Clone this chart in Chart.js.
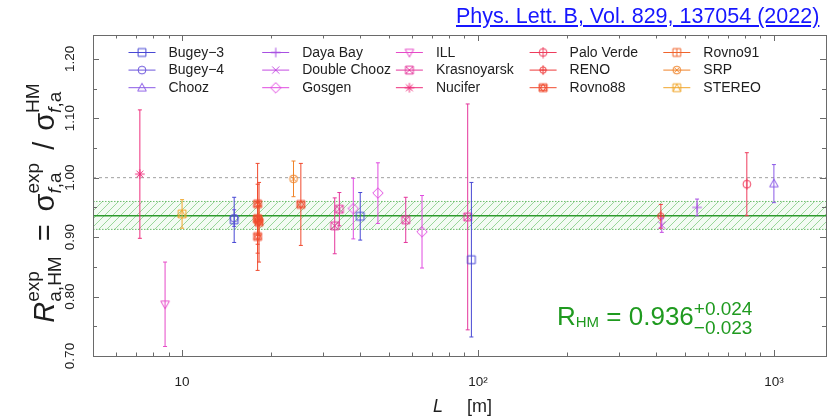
<!DOCTYPE html>
<html>
<head>
<meta charset="utf-8">
<script src="https://cdn.jsdelivr.net/npm/chart.js@4.4.1/dist/chart.umd.min.js"></script>
<style>
  html, body { margin: 0; padding: 0; background: #fff; }
  #wrap { position: relative; width: 832px; height: 418px; }
  #ref {
    position: absolute; left: 456px; top: 6px;
    font: 21.5px "Liberation Sans", Arial, sans-serif; line-height: 21.5px;
    color: #1616ff; text-decoration: underline; white-space: nowrap;
  }
</style>
</head>
<body>
<div id="wrap">
  <canvas id="chart" width="832" height="418"></canvas>
  <a id="ref" href="#">Phys. Lett. B, Vol. 829, 137054 (2022)</a>
</div>
<script>
// experiments, in legend order
const experiments = ['Bugey−3', 'Bugey−4', 'Chooz', 'Daya Bay', 'Double Chooz', 'Gosgen', 'ILL', 'Krasnoyarsk',
  'Nucifer', 'Palo Verde', 'RENO', 'Rovno88', 'Rovno91', 'SRP', 'STEREO'];

// one entry per measured point
const pointExperiment = ['Bugey−3', 'Bugey−3', 'Bugey−3', 'Bugey−4', 'Chooz', 'Daya Bay', 'Double Chooz',
  'Gosgen', 'Gosgen', 'Gosgen', 'ILL', 'Krasnoyarsk', 'Krasnoyarsk', 'Krasnoyarsk', 'Krasnoyarsk',
  'Nucifer', 'Palo Verde', 'RENO', 'Rovno88', 'Rovno88', 'Rovno88', 'Rovno88', 'Rovno88',
  'Rovno91', 'SRP', 'SRP', 'STEREO'];
const pointDistance = [15, 40, 95, 15, 1000, 550, 418,
  37.9, 45.9, 64.7, 8.76, 32.8, 92.3, 57, 34,
  7.2, 810, 415, 18, 18, 18, 25.2, 18.2,
  18, 18.2, 23.8, 10];
const pointRatio = [0.929, 0.935, 0.862, 0.932, 0.990, 0.950, 0.920,
  0.948, 0.974, 0.909, 0.787, 0.919, 0.934, 0.929, 0.947,
  1.006, 0.989, 0.935, 0.901, 0.956, 0.931, 0.955, 0.925,
  0.930, 0.928, 0.998, 0.939];
const pointError = [0.038, 0.040, 0.130, 0.014, 0.032, 0.014, 0.012,
  0.051, 0.051, 0.061, 0.071, 0.047, 0.190, 0.038, 0.028,
  0.108, 0.053, 0.020, 0.057, 0.068, 0.058, 0.069, 0.067,
  0.027, 0.025, 0.030, 0.024];

// fitted ratio and its band
const fitValue = 0.936;
const fitErrHigh = 0.024;
const fitErrLow = 0.023;
const referenceValue = 1.0;

// axis ticks
const xTickValues = [10, 100, 1000];
const xTickLabels = ['10', '10²', '10³'];
const yTickValues = [0.7, 0.8, 0.9, 1.0, 1.1, 1.2];
const yTickLabels = ['0.70', '0.80', '0.90', '1.00', '1.10', '1.20'];

// styling
const FONT = "'Liberation Sans', Arial, Helvetica, sans-serif";
const expColors = ['#4848d4', '#6c56dc', '#8a5ae6', '#a850e2', '#c44ce2', '#e04ce0', '#e64ac8', '#e4369c',
  '#ee2e7c', '#ee3c5c', '#ee3a3a', '#f04a2e', '#f0642c', '#f0842a', '#f0a62c'];
const expShapes = ['square', 'circle', 'triangle', 'plus', 'cross', 'diamond', 'triangleDown', 'squareX',
  'star', 'circleV', 'circlePlus', 'hexagram', 'squareV', 'circleX', 'squareTri'];
const X_MIN = 5, X_MAX = 1500;

function makeMarker(shape, color) {
  const cv = document.createElement('canvas');
  cv.width = 12; cv.height = 12;
  const g = cv.getContext('2d');
  const c = 6, r = 3.9;
  g.strokeStyle = color;
  g.lineWidth = 1;
  g.beginPath();
  const sq = () => g.rect(c - r, c - r, 2 * r, 2 * r);
  const ci = (rr) => { g.moveTo(c + rr, c); g.arc(c, c, rr, 0, Math.PI * 2); };
  switch (shape) {
    case 'square': sq(); break;
    case 'circle': ci(r); break;
    case 'triangle': g.moveTo(c, c - 4.5); g.lineTo(c + 4.3, c + 3.2); g.lineTo(c - 4.3, c + 3.2); g.closePath(); break;
    case 'triangleDown': g.moveTo(c, c + 4.5); g.lineTo(c + 4.3, c - 3.2); g.lineTo(c - 4.3, c - 3.2); g.closePath(); break;
    case 'plus': g.moveTo(c - 4.8, c); g.lineTo(c + 4.8, c); g.moveTo(c, c - 4.8); g.lineTo(c, c + 4.8); break;
    case 'cross': g.moveTo(c - 3.6, c - 3.6); g.lineTo(c + 3.6, c + 3.6); g.moveTo(c + 3.6, c - 3.6); g.lineTo(c - 3.6, c + 3.6); break;
    case 'diamond': g.moveTo(c, c - 5.2); g.lineTo(c + 5.2, c); g.lineTo(c, c + 5.2); g.lineTo(c - 5.2, c); g.closePath(); break;
    case 'squareX': sq(); g.moveTo(c - r, c - r); g.lineTo(c + r, c + r); g.moveTo(c + r, c - r); g.lineTo(c - r, c + r); break;
    case 'star':
      g.moveTo(c - 4.8, c); g.lineTo(c + 4.8, c); g.moveTo(c, c - 4.8); g.lineTo(c, c + 4.8);
      g.moveTo(c - 3.4, c - 3.4); g.lineTo(c + 3.4, c + 3.4); g.moveTo(c + 3.4, c - 3.4); g.lineTo(c - 3.4, c + 3.4); break;
    case 'circleV': ci(r); g.moveTo(c, c - 5.5); g.lineTo(c, c + 5.5); break;
    case 'circlePlus': ci(3.2); g.moveTo(c - 3.2, c); g.lineTo(c + 3.2, c); g.moveTo(c, c - 4.8); g.lineTo(c, c + 4.8); break;
    case 'hexagram':
      sq();
      g.moveTo(c, c - r); g.lineTo(c + r, c + r * 0.6); g.lineTo(c - r, c + r * 0.6); g.closePath();
      g.moveTo(c, c + r); g.lineTo(c + r, c - r * 0.6); g.lineTo(c - r, c - r * 0.6); g.closePath(); break;
    case 'squareV': sq(); g.moveTo(c, c - r); g.lineTo(c, c + r); break;
    case 'circleX': ci(r); g.moveTo(c - 2.7, c - 2.7); g.lineTo(c + 2.7, c + 2.7); g.moveTo(c + 2.7, c - 2.7); g.lineTo(c - 2.7, c + 2.7); break;
    case 'squareTri': sq(); g.moveTo(c, c - r); g.lineTo(c + r, c + r); g.moveTo(c, c - r); g.lineTo(c - r, c + r); break;
  }
  g.stroke();
  return cv;
}
const expMarkers = experiments.map((e, i) => makeMarker(expShapes[i], expColors[i]));

function makeHatch() {
  const cv = document.createElement('canvas');
  cv.width = 8; cv.height = 8;
  const g = cv.getContext('2d');
  g.fillStyle = 'rgba(160,220,160,0.12)';
  g.fillRect(0, 0, 8, 8);
  g.strokeStyle = 'rgba(70,180,70,0.75)';
  g.lineWidth = 0.7;
  g.beginPath();
  g.moveTo(0, 8); g.lineTo(8, 0);
  g.moveTo(-1, 1); g.lineTo(1, -1);
  g.moveTo(7, 9); g.lineTo(9, 7);
  g.stroke();
  return cv;
}
const canvas = document.getElementById('chart');
const hatch = canvas.getContext('2d').createPattern(makeHatch(), 'repeat');

const flat = (v) => [{ x: X_MIN, y: v }, { x: X_MAX, y: v }];
const lineDs = (v, extra) => Object.assign({
  type: 'line', data: flat(v), pointRadius: 0, borderWidth: 1, fill: false, order: 10
}, extra);

const datasets = [
  lineDs(fitValue - fitErrLow, { borderColor: 'rgba(50,160,50,0.9)', borderWidth: 0.8, borderDash: [1.5, 1.5] }),
  lineDs(fitValue + fitErrHigh, { borderColor: 'rgba(50,160,50,0.9)', borderWidth: 0.8, borderDash: [1.5, 1.5], fill: '-1', backgroundColor: hatch }),
  lineDs(fitValue, { borderColor: '#2e9b2e', borderWidth: 1.6, order: 9 }),
  lineDs(referenceValue, { borderColor: '#a0a0a0', borderDash: [3, 3], order: 9 })
];

experiments.forEach((name, i) => {
  const idx = pointExperiment.map((e, k) => e === name ? k : -1).filter(k => k >= 0);
  datasets.push({
    label: name,
    data: idx.map(k => ({ x: pointDistance[k], y: pointRatio[k] })),
    errors: idx.map(k => pointError[k]),
    pointStyle: expMarkers[i],
    pointRadius: 5,
    borderColor: expColors[i],
    backgroundColor: 'transparent',
    order: 0
  });
});

// error bars, drawn just before each experiment's markers
const errorBars = {
  id: 'errorBars',
  beforeDatasetDraw(chart, args) {
    const ds = chart.data.datasets[args.index];
    if (!ds.errors) return;
    const ctx = chart.ctx, xs = chart.scales.x, ys = chart.scales.y;
    ctx.save();
    ctx.strokeStyle = ds.borderColor;
    ctx.lineWidth = 1;
    ds.data.forEach((p, k) => {
      const x = xs.getPixelForValue(p.x);
      const y1 = ys.getPixelForValue(p.y + ds.errors[k]);
      const y2 = ys.getPixelForValue(p.y - ds.errors[k]);
      ctx.beginPath();
      ctx.moveTo(x, y1); ctx.lineTo(x, y2);
      ctx.moveTo(x - 2, y1); ctx.lineTo(x + 2, y1);
      ctx.moveTo(x - 2, y2); ctx.lineTo(x + 2, y2);
      ctx.stroke();
    });
    ctx.restore();
  }
};

// frame with inward ticks on all four sides
const frame = {
  id: 'frame',
  afterDraw(chart) {
    const { ctx, chartArea: a } = chart;
    const xs = chart.scales.x, ys = chart.scales.y;
    ctx.save();
    ctx.strokeStyle = '#6a6a6a';
    ctx.lineWidth = 1;
    ctx.strokeRect(Math.round(a.left) + 0.5, Math.round(a.top) + 0.5, Math.round(a.right - a.left), Math.round(a.bottom - a.top));
    ctx.beginPath();
    xs.ticks.forEach(t => {
      const x = Math.round(xs.getPixelForValue(t.value)) + 0.5;
      const len = t.major ? 6 : 3.5;
      ctx.moveTo(x, a.bottom); ctx.lineTo(x, a.bottom - len);
      ctx.moveTo(x, a.top); ctx.lineTo(x, a.top + len);
    });
    ys.ticks.forEach(t => {
      const y = Math.round(ys.getPixelForValue(t.value)) + 0.5;
      const len = t.major ? 6 : 4;
      ctx.moveTo(a.left, y); ctx.lineTo(a.left + len, y);
      ctx.moveTo(a.right, y); ctx.lineTo(a.right - len, y);
    });
    ctx.stroke();
    ctx.restore();
  }
};

// column-wise legend inside the frame
const legendBox = {
  id: 'legendBox',
  afterDraw(chart) {
    const ctx = chart.ctx;
    ctx.save();
    chart.data.datasets.filter(d => d.errors).forEach((ds, i) => {
      const col = Math.floor(i / 3), row = i % 3;
      const x = 128.5 + col * 133.7, y = 52.5 + row * 17.6;
      ctx.strokeStyle = ds.borderColor;
      ctx.lineWidth = 1;
      ctx.beginPath(); ctx.moveTo(x, y); ctx.lineTo(x + 27, y); ctx.stroke();
      ctx.drawImage(ds.pointStyle, x + 13.5 - 6, y - 6);
      ctx.fillStyle = '#1e1e1e';
      ctx.font = '14px ' + FONT;
      ctx.textBaseline = 'middle';
      ctx.fillText(ds.label, x + 40, y + 0.5);
    });
    ctx.restore();
  }
};

// rich text helpers for sub/superscripts
function fontStr(size, italic) { return (italic ? 'italic ' : '') + size + 'px ' + FONT; }
function runsWidth(ctx, runs, size) {
  let w = 0;
  runs.forEach(r => { ctx.font = fontStr(r.size || size, r.italic); w += ctx.measureText(r.t).width; });
  return w;
}
function drawRuns(ctx, runs, size, x, y) {
  runs.forEach(r => { ctx.font = fontStr(r.size || size, r.italic); ctx.fillText(r.t, x, y + (r.dy || 0)); x += ctx.measureText(r.t).width; });
  return x;
}
function segWidth(ctx, s, o) {
  if (s.gap) return s.gap;
  return s.sup ? Math.max(runsWidth(ctx, s.sup, o.script), runsWidth(ctx, s.sub, o.script)) : runsWidth(ctx, [s], o.main);
}
function richWidth(ctx, segs, o) {
  return segs.reduce((w, s) => w + segWidth(ctx, s, o), 0);
}
function drawRich(ctx, segs, o, x, y) {
  segs.forEach(s => {
    if (s.gap) {
      x += s.gap;
    } else if (s.sup) {
      const a = drawRuns(ctx, s.sup, o.script, x, y + o.supDy);
      const b = drawRuns(ctx, s.sub, o.script, x, y + o.subDy);
      x = Math.max(a, b);
    } else {
      x = drawRuns(ctx, [s], o.main, x, y);
    }
  });
}

const yTitle = [
  { t: 'R', italic: true },
  { sup: [{ t: 'exp' }], sub: [{ t: 'a,HM' }] },
  { gap: 15 }, { t: '=' }, { gap: 13 },
  { t: 'σ' },
  { sup: [{ t: 'exp' }], sub: [{ t: 'f', italic: true }, { t: ',a' }] },
  { gap: 13 }, { t: '/' }, { gap: 11 },
  { t: 'σ' },
  { sup: [{ t: 'HM' }], sub: [{ t: 'f', italic: true }, { t: ',a' }] }
];
const fitLabel = [
  { t: 'R' },
  { t: 'HM', size: 15, dy: 2 },
  { t: ' = ' + fitValue.toFixed(3) },
  { sup: [{ t: '+' + fitErrHigh.toFixed(3) }], sub: [{ t: '−' + fitErrLow.toFixed(3) }] }
];

const titles = {
  id: 'titles',
  afterDraw(chart) {
    const ctx = chart.ctx;
    ctx.save();
    ctx.textBaseline = 'alphabetic';
    ctx.textAlign = 'left';
    // y title, rotated
    ctx.fillStyle = '#1e1e1e';
    const oy = { main: 29, script: 19, supDy: -15, subDy: 7 };
    const w = richWidth(ctx, yTitle, oy);
    ctx.translate(54, 203);
    ctx.rotate(-Math.PI / 2);
    drawRich(ctx, yTitle, oy, -w / 2, 0);
    ctx.setTransform(1, 0, 0, 1, 0, 0);
    // x title
    ctx.font = fontStr(18, true);
    ctx.fillText('L', 433, 412);
    ctx.font = fontStr(18, false);
    ctx.fillText('[m]', 467, 412);
    // fitted value
    ctx.fillStyle = '#1f9a1f';
    drawRich(ctx, fitLabel, { main: 26, script: 19, supDy: -10, subDy: 9 }, 557, 325);
    ctx.restore();
  }
};

const minorX = [];
[1, 10, 100, 1000].forEach(d => { for (let m = 1; m <= 9; m++) { const v = m * d; if (v > X_MIN && v < X_MAX) minorX.push(v); } });

new Chart(canvas, {
  type: 'scatter',
  data: { datasets: datasets },
  options: {
    responsive: false,
    animation: false,
    layout: { padding: { top: 35, right: 2, left: 0, bottom: 0 } },
    plugins: { legend: { display: false }, tooltip: { enabled: false } },
    scales: {
      x: {
        type: 'logarithmic',
        min: X_MIN,
        max: X_MAX,
        grid: { display: false, drawTicks: false },
        border: { display: false },
        afterBuildTicks: (s) => { s.ticks = minorX.map(v => ({ value: v, major: xTickValues.includes(v) })); },
        afterFit: (s) => { s.height = 62; },
        ticks: {
          autoSkip: false, maxRotation: 0, padding: 18, color: '#222',
          font: { family: FONT, size: 13.5 },
          callback: (v) => { const i = xTickValues.indexOf(v); return i >= 0 ? xTickLabels[i] : ''; }
        }
      },
      y: {
        type: 'linear',
        min: 0.70,
        max: 1.24,
        grid: { display: false, drawTicks: false },
        border: { display: false },
        afterBuildTicks: (s) => {
          const t = [];
          for (let k = 0; k <= 10; k++) {
            const v = Math.round((0.70 + k * 0.05) * 100) / 100;
            t.push({ value: v, major: k % 2 === 0 });
          }
          s.ticks = t;
        },
        afterFit: (s) => { s.width = 93; },
        ticks: {
          autoSkip: false, minRotation: 90, maxRotation: 90, crossAlign: 'center', padding: 10, color: '#222',
          font: { family: FONT, size: 13.5 },
          callback: (v) => { const i = yTickValues.findIndex(t => Math.abs(t - v) < 1e-6); return i >= 0 ? yTickLabels[i] : ''; }
        }
      }
    }
  },
  plugins: [errorBars, frame, legendBox, titles]
});
</script>
</body>
</html>
